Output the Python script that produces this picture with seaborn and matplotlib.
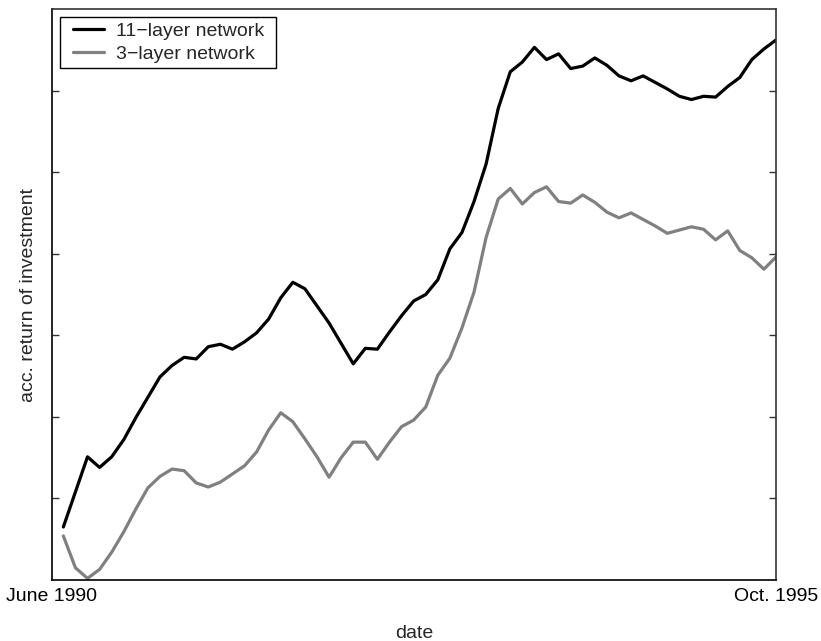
import numpy as np
import pandas as pd
import matplotlib
matplotlib.use("Agg")
import matplotlib.pyplot as plt
from matplotlib.path import Path
from matplotlib.lines import Line2D
from matplotlib.legend_handler import HandlerLine2D
import seaborn as sns

# Accumulated return of investment, monthly from June 1990 to Oct. 1995
months = list(range(60))
net11 = [0.65, 1.08, 1.51, 1.38, 1.51, 1.72, 1.99, 2.24, 2.49, 2.63,
         2.73, 2.71, 2.86, 2.89, 2.83, 2.92, 3.03, 3.20, 3.46, 3.65,
         3.57, 3.36, 3.15, 2.90, 2.65, 2.84, 2.83, 3.04, 3.24, 3.42,
         3.50, 3.68, 4.06, 4.26, 4.64, 5.10, 5.78, 6.23, 6.35, 6.53,
         6.38, 6.45, 6.27, 6.30, 6.40, 6.31, 6.18, 6.12, 6.18, 6.10,
         6.02, 5.93, 5.89, 5.93, 5.92, 6.05, 6.16, 6.38, 6.51, 6.62]
net3 = [0.54, 0.15, 0.02, 0.13, 0.34, 0.59, 0.87, 1.13, 1.27, 1.36,
        1.34, 1.19, 1.14, 1.20, 1.30, 1.40, 1.57, 1.84, 2.05, 1.94,
        1.73, 1.51, 1.26, 1.50, 1.69, 1.69, 1.48, 1.69, 1.88, 1.96,
        2.12, 2.51, 2.72, 3.09, 3.53, 4.20, 4.67, 4.80, 4.61, 4.75,
        4.82, 4.64, 4.62, 4.72, 4.63, 4.51, 4.44, 4.50, 4.42, 4.34,
        4.25, 4.29, 4.33, 4.30, 4.17, 4.28, 4.04, 3.95, 3.81, 3.96]
series_names = ["11\u2212layer network", "3\u2212layer network"]
date_labels = ["June 1990", "Oct. 1995"]

df = pd.DataFrame({
    "month": months * 2,
    "ret": net11 + net3,
    "model": [series_names[0]] * len(net11) + [series_names[1]] * len(net3),
})

sns.set_style("ticks")
plt.rcParams["font.family"] = ["Liberation Sans", "DejaVu Sans"]
plt.rcParams["font.size"] = 14

fig = plt.figure(figsize=(8.21, 6.41), dpi=100)
ax = fig.add_axes([52 / 821, 1 - 580 / 641, (776 - 52) / 821, (580 - 9) / 641])

sns.lineplot(data=df, x="month", y="ret", hue="model",
             palette=["black", "#808080"], linewidth=2.3, ax=ax)

ax.set_xlim(-0.94, 59)
ax.set_ylim(0, 7)
ax.set_yticks([1, 2, 3, 4, 5, 6])
ax.set_yticklabels([])
ax.set_xticks([-0.94, 59])
ax.set_xticklabels(date_labels)
ax.tick_params(axis="y", direction="in", length=5, width=1, colors="#333333",
               left=True, right=True)
ax.tick_params(axis="x", length=0, pad=6, labelsize=14, labelcolor="black")

for side in ["left", "bottom", "top", "right"]:
    ax.spines[side].set_visible(True)
    ax.spines[side].set_linewidth(1.2)
ax.spines["left"].set_color("black")
ax.spines["bottom"].set_color("black")
ax.spines["top"].set_color("#333333")
ax.spines["right"].set_color("#333333")

ax.set_xlabel("date", fontsize=14, labelpad=14)
ax.set_ylabel("acc. return of investment", fontsize=14, labelpad=7)


def wide_right_box(x0, y0, width, height, mutation_size):
    """Square legend frame with extra room to the right of the labels."""
    width = width + 0.35 * mutation_size
    verts = [(x0, y0), (x0 + width, y0), (x0 + width, y0 + height),
             (x0, y0 + height), (x0, y0)]
    codes = [Path.MOVETO, Path.LINETO, Path.LINETO, Path.LINETO, Path.CLOSEPOLY]
    return Path(verts, codes)


handles, labels = ax.get_legend_handles_labels()
leg = ax.legend(handles, labels, loc="upper left", frameon=True, fancybox=False,
                framealpha=1, edgecolor="black", fontsize=14,
                handlelength=2.0, labelspacing=0.27, borderaxespad=0.4,
                borderpad=0.27, handletextpad=0.6,
                handler_map={Line2D: HandlerLine2D(xpad=0.4)})
leg.get_frame().set_linewidth(1.0)
leg.get_frame().set_boxstyle(wide_right_box)

fig.savefig("out.png", dpi=100)
